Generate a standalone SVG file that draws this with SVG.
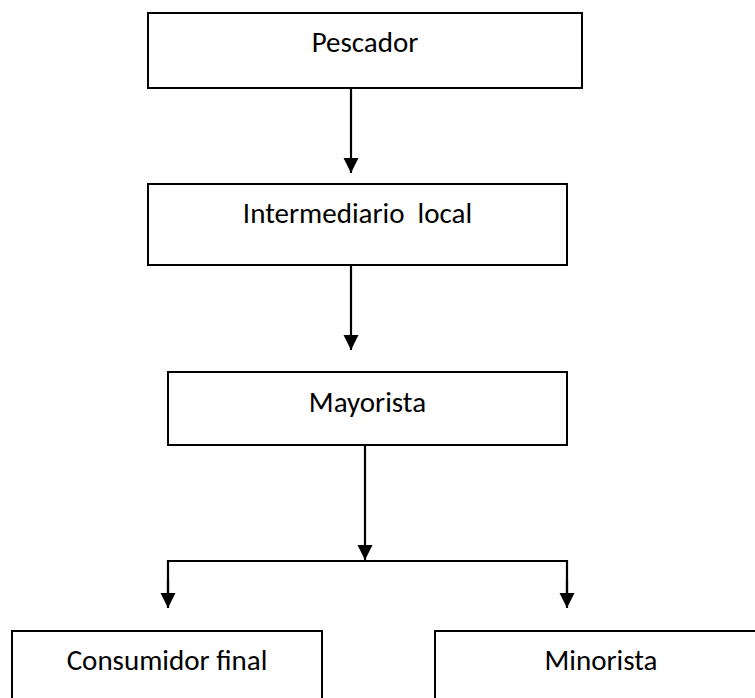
<svg xmlns="http://www.w3.org/2000/svg" width="755" height="698" viewBox="0 0 755 698">
  <style>
    .box { fill: #ffffff; stroke: #000000; stroke-width: 2; }
    .label { font-family: Carlito, Lato, "Liberation Sans", sans-serif; font-size: 29px; fill: #000000; text-anchor: middle; }
    .link { fill: none; stroke: #000000; stroke-width: 2.2; }
  </style>
  <defs>
    <marker id="arrow" markerUnits="userSpaceOnUse" markerWidth="17" markerHeight="16" refX="15" refY="8" orient="auto">
      <path d="M0,0.5 L15,8 L0,15.5 Z" fill="#000000"/>
    </marker>
  </defs>
  <rect width="755" height="698" fill="#ffffff"/>

  <g id="pescador">
    <rect class="box" x="148" y="13" width="434" height="75"/>
    <text class="label" x="365" y="52">Pescador</text>
  </g>
  <g id="intermediario">
    <rect class="box" x="148" y="184" width="419" height="81"/>
    <text class="label" x="357.5" y="223" xml:space="preserve">Intermediario  local</text>
  </g>
  <g id="mayorista">
    <rect class="box" x="168" y="372" width="399" height="73"/>
    <text class="label" x="367.5" y="412">Mayorista</text>
  </g>
  <g id="consumidor">
    <rect class="box" x="12" y="631" width="310" height="80"/>
    <text class="label" x="167" y="670">Consumidor final</text>
  </g>
  <g id="minorista">
    <rect class="box" x="435" y="631" width="332" height="80"/>
    <text class="label" x="601" y="670">Minorista</text>
  </g>

  <g id="connectors">
    <line class="link" x1="351" y1="88" x2="351" y2="173" marker-end="url(#arrow)"/>
    <line class="link" x1="351" y1="265" x2="351" y2="350" marker-end="url(#arrow)"/>
    <line class="link" x1="365" y1="445" x2="365" y2="560" marker-end="url(#arrow)"/>
    <polyline class="link" points="168,600 168,561 567,561 567,600" />
    <line class="link" x1="168" y1="580" x2="168" y2="608" marker-end="url(#arrow)"/>
    <line class="link" x1="567" y1="580" x2="567" y2="608" marker-end="url(#arrow)"/>
  </g>
</svg>
